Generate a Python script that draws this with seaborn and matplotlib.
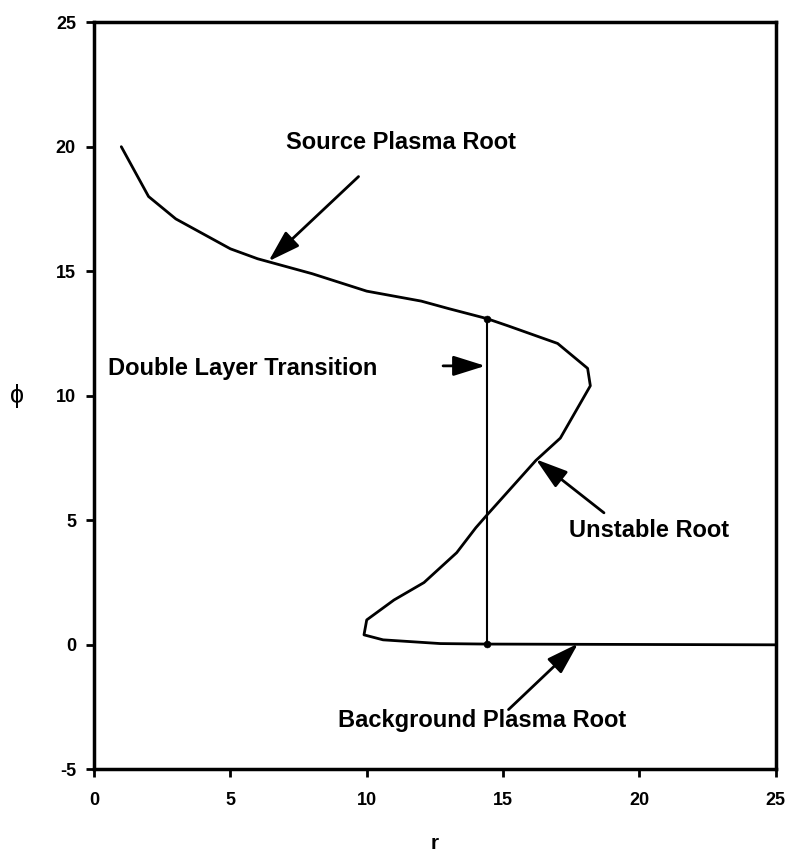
import numpy as np
import pandas as pd
import matplotlib
matplotlib.use("Agg")
import matplotlib.pyplot as plt
import seaborn as sns

# ---- data ----
r_vals = [1, 2, 3, 4, 5, 6, 8, 10, 12, 13, 14.4, 15.2, 17, 18.1, 18.2,
          17.1, 16.2, 14.4, 14, 13.3, 12.1, 11, 10, 9.9, 10.6, 12.7, 14.4, 25]
phi_vals = [20, 18, 17.1, 16.5, 15.9, 15.5, 14.9, 14.2, 13.8, 13.5, 13.1, 12.8,
            12.1, 11.1, 10.4, 8.3, 7.4, 5.2, 4.7, 3.7, 2.5, 1.8, 1.0, 0.4, 0.2,
            0.05, 0.03, 0.0]
transition_r = [14.4, 14.4]
transition_phi = [0.03, 13.1]

x_ticks = [0, 5, 10, 15, 20, 25]
y_ticks = [-5, 0, 5, 10, 15, 20, 25]

curve = pd.DataFrame({"r": r_vals, "phi": phi_vals})
jump = pd.DataFrame({"r": transition_r, "phi": transition_phi})

sns.set_style("ticks")
plt.rcParams["font.family"] = ["Liberation Sans", "DejaVu Sans"]
plt.rcParams["font.weight"] = "bold"
plt.rcParams["axes.unicode_minus"] = False
for key in ["text.color", "axes.labelcolor", "xtick.color", "ytick.color",
            "axes.edgecolor"]:
    plt.rcParams[key] = "black"

fig = plt.figure(figsize=(7.9, 8.52), dpi=100)
ax = fig.add_axes([0.119, 0.097, 0.863, 0.877])

sns.lineplot(data=curve, x="r", y="phi", sort=False, estimator=None,
             color="black", lw=2, ax=ax)
sns.lineplot(data=jump, x="r", y="phi", sort=False, estimator=None,
             color="black", lw=1.5, ax=ax)
sns.scatterplot(data=jump, x="r", y="phi", color="black", s=25, ax=ax,
                edgecolor="black", zorder=5)

ax.set_xlim(0, 25)
ax.set_ylim(-5, 25)
ax.set_xticks(x_ticks)
ax.set_yticks(y_ticks)
ax.tick_params(direction="out", length=6, width=2, labelsize=13)
ax.tick_params(axis="x", pad=10)
ax.tick_params(axis="y", pad=7)
for lab in ax.get_xticklabels() + ax.get_yticklabels():
    lab.set_fontweight("bold")
for sp in ax.spines.values():
    sp.set_visible(True)
    sp.set_linewidth(2.5)
    sp.set_color("black")

ax.set_xlabel("r", fontsize=15, fontweight="bold", labelpad=18)
ax.set_ylabel("\u03d5", fontsize=18, rotation=0, labelpad=28, va="center")

arrow = dict(arrowstyle="-|>,head_length=0.7,head_width=0.22", color="black",
             lw=2, mutation_scale=28, shrinkA=0, shrinkB=0)
txt = dict(fontsize=17, fontweight="bold")

ax.annotate("", xy=(6.4, 15.4), xytext=(9.7, 18.8), arrowprops=arrow)
ax.text(7.05, 20.15, "Source Plasma Root", ha="left", va="center", **txt)

ax.annotate("", xy=(14.35, 11.2), xytext=(12.8, 11.2), arrowprops=arrow)
ax.text(0.5, 11.1, "Double Layer Transition", ha="left", va="center", **txt)

ax.annotate("", xy=(16.2, 7.45), xytext=(18.7, 5.3), arrowprops=arrow)
ax.text(17.4, 4.6, "Unstable Root", ha="left", va="center", **txt)

ax.annotate("", xy=(17.75, 0.05), xytext=(15.2, -2.6), arrowprops=arrow)
ax.text(14.25, -3.05, "Background Plasma Root", ha="center", va="center", **txt)

fig.savefig("out.png", dpi=100)
